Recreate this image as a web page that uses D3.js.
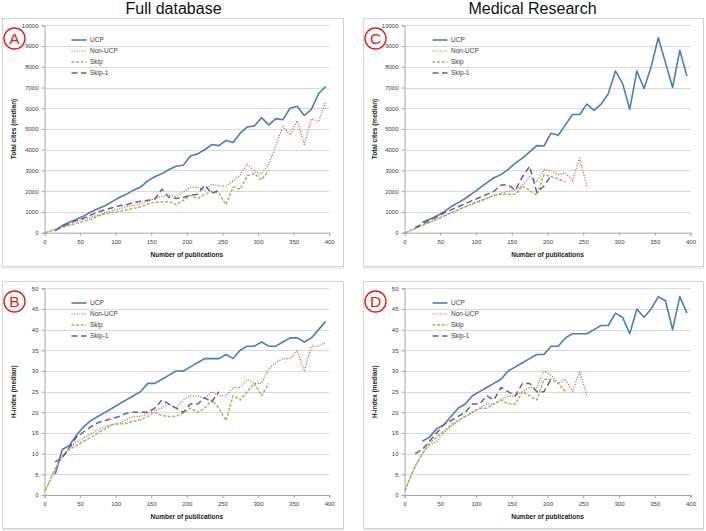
<!DOCTYPE html>
<html><head><meta charset="utf-8">
<script src="https://cdn.jsdelivr.net/npm/d3@7/dist/d3.min.js"></script>
<style>
html,body{margin:0;padding:0;background:#fff;}
svg{display:block;font-family:"Liberation Sans",Arial,sans-serif;}
</style></head>
<body>
<svg id="chart" width="706" height="531"></svg>
<script>
// ---------- data ----------
const xs = [1,5,15,25,35,45,55,65,75,85,95,105,115,125,135,145,155,165,175,185,195,205,215,225,235,245,255,265,275,285,295,305,315,325,335,345,355,365,375,385,395];
const seriesNames = ["UCP","Non-UCP","Skip","Skip-1"];
const columnTitles = ["Full database","Medical Research"];
const panelLetters = ["A","B","C","D"];
const citeTicks = [0,1000,2000,3000,4000,5000,6000,7000,8000,9000,10000];
const hTicks = [0,5,10,15,20,25,30,35,40,45,50];
const pubTicks = [0,50,100,150,200,250,300,350,400];

// Panel A: Full database, total cites
const A_UCP  = [null,null,100,350,500,650,800,1000,1150,1300,1500,1700,1850,2050,2200,2500,2700,2850,3050,3200,3250,3700,3800,4000,4250,4200,4450,4350,4800,5100,5150,5550,5200,5500,5450,6000,6100,5650,5950,6700,7050];
const A_NON  = [0,50,150,300,400,550,650,750,850,980,1060,1150,1250,1330,1400,1500,1650,1750,1800,1750,1950,2200,2200,2050,2350,2250,2250,2500,2800,3300,2950,2850,3300,4200,5150,4700,5400,4250,5500,5350,6300];
const A_SKIP = [0,50,150,250,350,450,550,650,800,900,970,1030,1100,1170,1250,1380,1470,1480,1500,1350,1550,1800,1650,1850,2000,1900,1350,2200,2100,2750,2850,2550,3000,null,null,null,null,null,null,null,null];
const A_SK1  = [null,null,100,300,450,600,700,850,1000,1100,1200,1300,1350,1450,1520,1560,1620,2100,1700,1650,1700,1800,1850,2300,1900,2050,null,null,null,null,null,null,null,null,null,null,null,null,null,null,null];

// Panel B: Full database, H-index
const B_UCP  = [null,null,5,11,12,14.5,16.5,18,19,20,21,22,23,24,25,27,27,28,29,30,30,31,32,33,33,33,34,33,35,36,36,37,36,36,37,38,38,37,38,40,42];
const B_NON  = [1,2.5,6.3,9.5,11.5,12.8,13.8,14.8,15.8,16.5,17,17.5,18.2,19,19,19.8,20.5,21,22,21,23,24,24,23.3,25,24,24,26,26,28,27,27,30.5,32,33,33,35,30,36,36,37];
const B_SKIP = [1,2.5,6.3,9.2,11,12,13,14,15,16,17,17.2,17.3,17.8,18.2,19,20,19.2,19,19,19.8,21,20,21,23,21,18,24,23,25,27,24,27,null,null,null,null,null,null,null,null];
const B_SK1  = [null,null,8,9,11.5,14,15.3,16.5,17.5,18,18.5,19,19.8,20,20,20,21,23,22,21,20,22,22,23.5,22.5,25,null,null,null,null,null,null,null,null,null,null,null,null,null,null,null];

// Panel C: Medical Research, total cites
const C_UCP  = [null,null,null,500,650,800,1000,1250,1450,1650,1900,2150,2400,2650,2800,3050,3350,3600,3900,4200,4180,4800,4700,5200,5700,5700,6200,5900,6200,6700,7800,7200,5950,7800,6950,8000,9400,8200,7000,8800,7550];
const C_NON  = [0,50,200,350,500,650,800,950,1100,1250,1400,1550,1650,1800,1900,2000,2050,2300,2700,2450,3050,3000,2800,2900,2500,3600,2250,null,null,null,null,null,null,null,null,null,null,null,null,null,null];
const C_SKIP = [0,50,200,350,500,650,800,950,1100,1250,1400,1500,1650,1800,1850,1850,1850,2250,2050,1800,2800,2700,2600,2450,null,null,null,null,null,null,null,null,null,null,null,null,null,null,null,null,null];
const C_SK1  = [null,null,250,420,600,750,950,1100,1250,1400,1550,1700,1850,2000,2300,2300,2050,2700,3200,1950,2250,2750,null,null,null,null,null,null,null,null,null,null,null,null,null,null,null,null,null,null,null];

// Panel D: Medical Research, H-index
const D_UCP  = [null,null,null,13,14,16,17,19,21,22,24,25,26,27,28,30,31,32,33,34,34,36,36,38,39,39,39,40,41,41,44,43,39,45,43,45,48,47,40,48,44];
const D_NON  = [1,3,7,10,12,13,15,16.5,18,19,20,21,22,22,23,24,24,25,26,26,30,29,27,28,25,30,24,null,null,null,null,null,null,null,null,null,null,null,null,null,null];
const D_SKIP = [1,3,7,10,12.5,14,15.5,17,18,19,20,21,21,22,23,22,22,25,24,23,28,28,27,25,null,null,null,null,null,null,null,null,null,null,null,null,null,null,null,null,null];
const D_SK1  = [null,null,10,11,13,15,17,18,19,20,22,22,24,23,26,25,24,27,27,25,25,28,null,null,null,null,null,null,null,null,null,null,null,null,null,null,null,null,null,null,null];

// ---------- styles ----------
const styles = [
  {color:"#4a7ebb", width:1.6, dash:null},
  {color:"#c0504d", width:1.2, dash:"1,1.6"},
  {color:"#9bbb59", width:1.5, dash:"3,1.6"},
  {color:"#6b5b9e", width:1.5, dash:"6,3.5"}
];

const svg = d3.select("#chart");

// column titles
svg.append("text").attr("x",173.5).attr("y",13.5).attr("text-anchor","middle")
  .attr("font-size",16).attr("fill","#111").text(columnTitles[0]);
svg.append("text").attr("x",532.5).attr("y",13.5).attr("text-anchor","middle")
  .attr("font-size",16).attr("fill","#111").text(columnTitles[1]);

const panels = [
  {letter:panelLetters[0], box:[2,18,343,266], x0:44.5, x1:329.2, y0:232.7, y1:25.3, yMax:10000, yTicks:citeTicks, ylabel:"Total cites (median)", data:[A_UCP,A_NON,A_SKIP,A_SK1]},
  {letter:panelLetters[1], box:[2,281,343,528], x0:44.5, x1:329.2, y0:495, y1:288.3, yMax:50, yTicks:hTicks, ylabel:"H-index (median)", data:[B_UCP,B_NON,B_SKIP,B_SK1]},
  {letter:panelLetters[2], box:[363,18,703,266], x0:404.5, x1:690.5, y0:232.7, y1:25.3, yMax:10000, yTicks:citeTicks, ylabel:"Total cites (median)", data:[C_UCP,C_NON,C_SKIP,C_SK1]},
  {letter:panelLetters[3], box:[363,281,703,528], x0:404.5, x1:690.5, y0:495, y1:288.3, yMax:50, yTicks:hTicks, ylabel:"H-index (median)", data:[D_UCP,D_NON,D_SKIP,D_SK1]}
];

panels.forEach(p => {
  const g = svg.append("g");
  const [bx0,by0,bx1,by1] = p.box;
  g.append("rect").attr("x",bx0+0.5).attr("y",by0+0.5).attr("width",bx1-bx0).attr("height",by1-by0)
    .attr("fill","#fff").attr("stroke","#d4d4d4").attr("stroke-width",1);
  g.append("rect").attr("x",bx0).attr("y",by1+1).attr("width",bx1-bx0+1).attr("height",2)
    .attr("fill","#ececec");

  const x = d3.scaleLinear().domain([0,400]).range([p.x0,p.x1]);
  const y = d3.scaleLinear().domain([0,p.yMax]).range([p.y0,p.y1]);

  // gridlines
  g.append("g").selectAll("line").data(p.yTicks.filter(t=>t>0)).join("line")
    .attr("x1",p.x0).attr("x2",p.x1).attr("y1",d=>Math.round(y(d))+0.5).attr("y2",d=>Math.round(y(d))+0.5)
    .attr("stroke","#d9d9d9").attr("stroke-width",1);

  // y axis
  const ya = g.append("g").attr("transform",`translate(${p.x0},0)`)
    .call(d3.axisLeft(y).tickValues(p.yTicks).tickSize(3).tickPadding(3).tickFormat(d3.format("d")));
  ya.select(".domain").attr("stroke","#a6a6a6");
  ya.selectAll(".tick line").attr("stroke","#a6a6a6");
  ya.selectAll("text").attr("font-size",6).attr("fill","#404040").attr("font-family","Liberation Sans, Arial, sans-serif");

  // x axis
  const xa = g.append("g").attr("transform",`translate(0,${p.y0})`)
    .call(d3.axisBottom(x).tickValues(pubTicks).tickSize(3).tickPadding(4).tickFormat(d3.format("d")));
  xa.select(".domain").attr("stroke","#a6a6a6");
  xa.selectAll(".tick line").attr("stroke","#a6a6a6");
  xa.selectAll("text").attr("font-size",6).attr("fill","#404040").attr("font-family","Liberation Sans, Arial, sans-serif");

  // axis labels
  g.append("text").attr("x",(p.x0+p.x1)/2 + 0).attr("y",p.y0+24)
    .attr("text-anchor","middle").attr("font-size",6.5).attr("font-weight","bold").attr("fill","#222")
    .text("Number of publications");
  g.append("text").attr("transform",`translate(${bx0+13.5},${(p.y0+p.y1)/2}) rotate(-90)`)
    .attr("text-anchor","middle").attr("font-size",6.5).attr("font-weight","bold").attr("fill","#222")
    .text(p.ylabel);

  // series
  const line = d3.line().defined(d=>d[1]!=null).x(d=>x(d[0])).y(d=>y(d[1]));
  p.data.forEach((vals,i) => {
    const pts = xs.map((xv,j)=>[xv, vals[j]]);
    const s = styles[i];
    g.append("path").attr("d",line(pts)).attr("fill","none")
      .attr("stroke",s.color).attr("stroke-width",s.width)
      .attr("stroke-dasharray",s.dash).attr("stroke-linejoin","round");
  });

  // legend
  const lx = bx0 + 69.5, ly = by0 + 22;
  seriesNames.forEach((name,i) => {
    const s = styles[i];
    const yy = ly + i*11;
    g.append("line").attr("x1",lx).attr("x2",lx+15).attr("y1",yy).attr("y2",yy)
      .attr("stroke",s.color).attr("stroke-width",s.width).attr("stroke-dasharray",s.dash);
    g.append("text").attr("x",lx+18.5).attr("y",yy+2.2).attr("font-size",6.5).attr("fill","#404040").text(name);
  });

  // letter badge
  const cx = bx0 + 12.5, cy = by0 + 20.5;
  g.append("circle").attr("cx",cx).attr("cy",cy).attr("r",10.5)
    .attr("fill","#fff").attr("stroke","#e0201b").attr("stroke-width",1.4);
  g.append("text").attr("x",cx).attr("y",cy+5.5).attr("text-anchor","middle")
    .attr("font-size",15.5).attr("fill","#e0201b").text(p.letter);
});
</script>
</body></html>
